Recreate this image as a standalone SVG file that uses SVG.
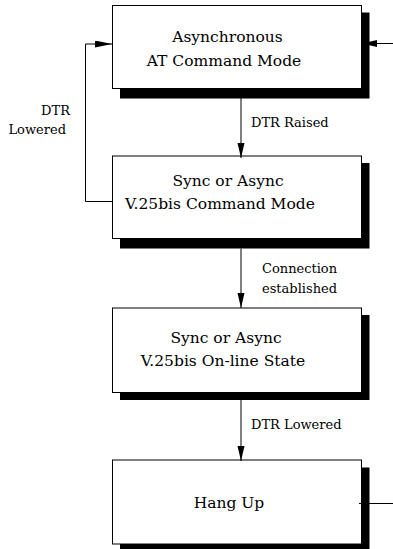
<svg xmlns="http://www.w3.org/2000/svg" width="393" height="549" viewBox="0 0 393 549">
<defs>
<style>
.box{fill:#fff;stroke:#000;stroke-width:1}
.shadow{fill:#000}
.t{font-family:"DejaVu Serif","Liberation Serif",serif;font-size:15.5px;fill:#000;text-anchor:middle}
.l{font-family:"DejaVu Serif","Liberation Serif",serif;font-size:13px;fill:#000}
.c{fill:none;stroke:#000;stroke-width:1}
</style>
<marker id="ah" markerUnits="userSpaceOnUse" markerWidth="16" markerHeight="8" refX="15" refY="3.5" orient="auto">
<path d="M0,0 L15,3.5 L0,7 z" fill="#000"/>
</marker>
<marker id="ahl" markerUnits="userSpaceOnUse" markerWidth="18" markerHeight="8" refX="17" refY="3.5" orient="auto">
<path d="M0,0 L17,3.5 L0,7 z" fill="#000"/>
</marker>
</defs>
<rect width="393" height="549" fill="#fff"/>
<g id="n1">
<rect class="shadow" x="120" y="12.5" width="249.5" height="86"/>
<rect class="box" x="112.5" y="5.5" width="249" height="83"/>
<text class="t" x="227.5" y="42">Asynchronous</text>
<text class="t" x="224" y="65.5">AT Command Mode</text>
</g>
<g id="n2">
<rect class="shadow" x="120" y="163" width="249.5" height="85.5"/>
<rect class="box" x="112.5" y="156" width="249" height="82.5"/>
<text class="t" x="228" y="185.5">Sync or Async</text>
<text class="t" x="220" y="209">V.25bis Command Mode</text>
</g>
<g id="n3">
<rect class="shadow" x="120" y="315" width="249.5" height="85"/>
<rect class="box" x="112.5" y="308" width="249" height="84.5"/>
<text class="t" x="226" y="343">Sync or Async</text>
<text class="t" x="223" y="366">V.25bis On-line State</text>
</g>
<g id="n4">
<rect class="shadow" x="120" y="467.5" width="249.5" height="85"/>
<rect class="box" x="112.5" y="460" width="249" height="84"/>
<text class="t" x="229" y="508">Hang Up</text>
</g>
<g id="connectors">
<line class="c" x1="241" y1="98" x2="241" y2="158" marker-end="url(#ah)"/>
<line class="c" x1="241" y1="248.5" x2="241" y2="308" marker-end="url(#ah)"/>
<line class="c" x1="241" y1="400" x2="241" y2="461" marker-end="url(#ah)"/>
<polyline class="c" points="112.5,201.5 85.5,201.5 85.5,44 112,44" marker-end="url(#ahl)"/>
<line class="c" x1="393" y1="43.5" x2="362" y2="43.5" marker-end="url(#ah)"/>
<line class="c" x1="359" y1="503.5" x2="393" y2="503.5"/>
<text class="l" x="251" y="127">DTR Raised</text>
<text class="l" x="70" y="115" text-anchor="end">DTR</text>
<text class="l" x="66" y="134" text-anchor="end">Lowered</text>
<text class="l" x="262" y="273">Connection</text>
<text class="l" x="262" y="293">established</text>
<text class="l" x="251" y="429">DTR Lowered</text>
</g>
</svg>
